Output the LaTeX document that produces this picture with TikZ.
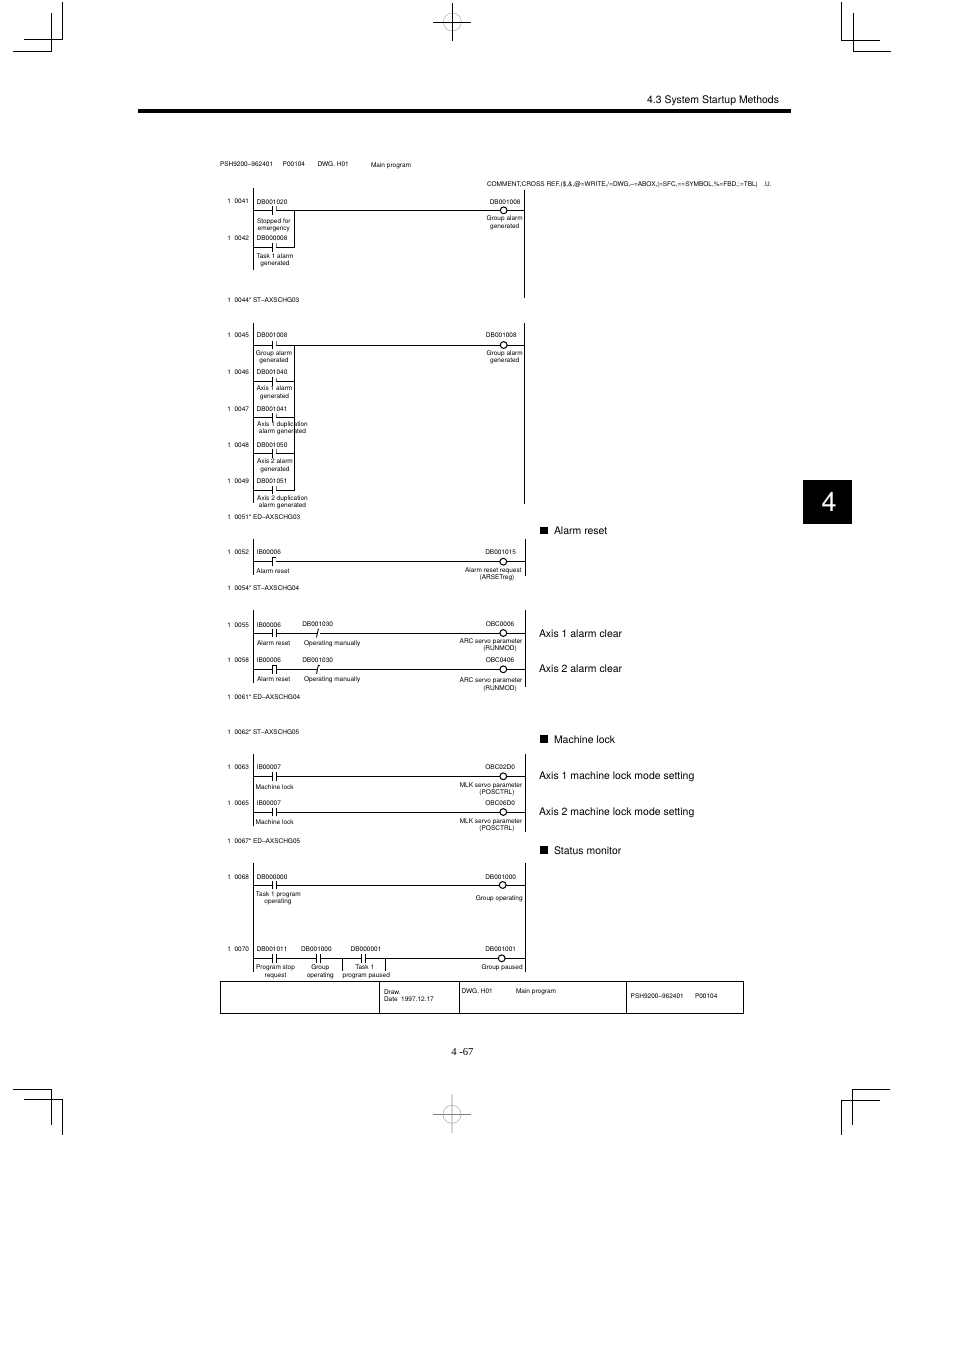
\documentclass[tikz,border=0pt]{standalone}
\usepackage{fontspec}
\setmainfont{TeX Gyre Heros}
\newfontfamily\pagenofont{Liberation Serif}
\tikzset{
  wire/.style={line width=0.9pt,black},
  rail/.style={line width=0.9pt,black},
  cropmark/.style={line width=0.8pt,black},
  lbl/.style={inner sep=0,outer sep=0,font=\fontsize{6.5pt}{7pt}\selectfont,text height=4.6pt,text depth=0pt},
  lbll/.style={lbl,anchor=west},
  lblr/.style={lbl,anchor=east},
  lblc/.style={lbl,anchor=center},
  note/.style={inner sep=0,outer sep=0,anchor=west,font=\fontsize{10.47pt}{12pt}\selectfont,text height=7.5pt,text depth=0pt},
  coil/.style={circle,draw,line width=1pt,inner sep=0,outer sep=0,minimum size=6.8pt},
  bullet/.style={fill=black,inner sep=0,outer sep=0,minimum size=7.6pt},
  contactbox/.style={inner sep=0,outer sep=0,minimum width=3.4pt,minimum height=8pt},
  nocontact/.style={contactbox,append after command={(\tikzlastnode.north west) edge[wire] (\tikzlastnode.south west) (\tikzlastnode.north east) edge[wire] (\tikzlastnode.south east)}},
  lightcontact/.style={contactbox,append after command={(\tikzlastnode.north west) edge[wire] (\tikzlastnode.south west) (\tikzlastnode.north east) edge[line width=0.4pt,gray] (\tikzlastnode.east)}},
  risecontact/.style={contactbox,append after command={(\tikzlastnode.south west) edge[wire] (\tikzlastnode.north west) (\tikzlastnode.north west) edge[wire] (\tikzlastnode.north east)}},
  pulsecontact/.style={nocontact,append after command={(\tikzlastnode.north west) edge[wire] (\tikzlastnode.north east)}},
  ncontact/.style={contactbox,append after command={(\tikzlastnode.south west) edge[wire] (\tikzlastnode.north)}},
  ncrisecontact/.style={ncontact,append after command={(\tikzlastnode.north) edge[wire] (\tikzlastnode.north east)}},
}
\begin{document}
\begin{tikzpicture}[x=1pt,y=-1pt,line cap=rect]
\useasboundingbox (0,0) rectangle (954,1351);
\definecolor{circlegray}{RGB}{165,165,165}
\definecolor{crossgray}{RGB}{215,215,215}
% crop marks
\draw [cropmark] (62.3,2) -- (62.3,39.3) -- (24.3,39.3);
\draw [cropmark] (51.3,13.3) -- (51.3,51.7) -- (13.3,51.7);
\draw [cropmark] (841.3,2) -- (841.3,40.7) -- (879.3,40.7);
\draw [cropmark] (853.3,13.3) -- (853.3,51.5) -- (890.7,51.5);
\draw [cropmark] (13.3,1089.3) -- (51.3,1089.3) -- (51.3,1124.3);
\draw [cropmark] (24.3,1099.3) -- (62.3,1099.3) -- (62.3,1134.3);
\draw [cropmark] (890,1089.3) -- (852.3,1089.3) -- (852.3,1124.3);
\draw [cropmark] (879.3,1100.3) -- (841.3,1100.3) -- (841.3,1135);
\draw [line width=0.5pt, circlegray] (452.3,22) circle (9);
\draw [cropmark] (433.3,22) -- (471,22);
\draw [cropmark] (452.3,3.3) -- (452.3,40.7);
\draw [line width=1.3pt, crossgray] (452,1095) -- (452,1132.7);
\draw [line width=0.5pt, circlegray] (452,1114.3) circle (9);
\draw [line width=0.6pt, gray] (433,1114.3) -- (471,1114.3);
% page head
\fill [black] (138,109) rectangle (790.7,113.3);
\node[note, anchor=east] (headtitle) at (779,99.5) {4.3 System Startup Methods};
\node[fill=black, text=white, inner sep=0, minimum width=49pt, minimum height=44pt, font=\fontsize{27pt}{27pt}\selectfont] (chaptertab) at (827.5,502) {\hspace{3pt}4};
\node[lbll] (hdrpsh) at (220,164.5) {PSH9200--962401};
\node[lbll] (hdrpage) at (282.7,164.5) {P00104};
\node[lbll] (hdrdwg) at (317.7,164.5) {DWG. H01};
\node[lbll] (hdrmain) at (371,165) {Main program};
\node[lbll] (hdrcomment) at (487,184.5) {COMMENT,CROSS REF.(\$,\&,@=WRITE,/=DWG,--=ABOX,|=SFC,==SYMBOL,\%=FBD,:=TBL)\ \ \ .U.};
% rungs 0041 0042
\coordinate (railla) at (253.3,188);
\coordinate (raillb) at (253.3,270);
\coordinate (railra) at (524.3,190);
\coordinate (railrb) at (524.3,297.7);
\draw [rail] (railla) -- (raillb);
\draw [rail] (railra) -- (railrb);
\node[lightcontact] (c41) at (274.3,210.3) {};
\node[lightcontact] (c42) at (274.3,247.3) {};
\node[coil] (q41) at (503.7,210.3) {};
\coordinate (br41) at (294.7,210.3);
\draw [wire] (railla |- c41) -- (c41.west);
\draw [wire] (c41.east) -- (q41.west);
\draw [wire] (q41.east) -- (railra |- q41);
\draw [wire] (railla |- c42) -- (c42.west);
\draw [wire] (c42.east) -| (br41);
\node[lbll] (n41) at (227.3,201.7) {1\ \ 0041};
\node[lbll] (a41) at (256.7,202) {DB001020};
\node[lblc] (t41a) at (273.8,221) {Stopped for};
\node[lblc] (t41b) at (273.8,228.3) {emergency};
\node[lbll] (n42) at (227.3,237.7) {1\ \ 0042};
\node[lbll] (a42) at (256.7,238) {DB000008};
\node[lblc] (t42a) at (275,255.7) {Task 1 alarm};
\node[lblc] (t42b) at (275,263) {generated};
\node[lblr] (b41) at (520.5,202) {DB001008};
\node[lblc] (u41a) at (504.7,217.7) {Group alarm};
\node[lblc] (u41b) at (504.7,225.7) {generated};
\node[lbll] (n44) at (227.3,300) {1\ \ 0044*\kern1.5pt ST--AXSCHG03};
% rungs 0045 to 0049
\coordinate (railsa) at (253.3,323);
\coordinate (railsb) at (253.3,502.3);
\coordinate (railta) at (524.3,323.5);
\coordinate (railtb) at (524.3,504);
\draw [rail] (railsa) -- (railsb);
\draw [rail] (railta) -- (railtb);
\node[lightcontact] (c45) at (274.3,345) {};
\node[lightcontact] (c46) at (274.3,381.7) {};
\node[lightcontact] (c47) at (274.3,417.7) {};
\node[lightcontact] (c48) at (274.3,453.3) {};
\node[lightcontact] (c49) at (274.3,490) {};
\node[coil] (q45) at (503.7,345) {};
\coordinate (br45) at (294.3,345);
\draw [wire] (railsa |- c45) -- (c45.west);
\draw [wire] (c45.east) -- (q45.west);
\draw [wire] (q45.east) -- (railta |- q45);
\draw [wire] (railsa |- c46) -- (c46.west);
\draw [wire] (c46.east) -- (br45 |- c46);
\draw [wire] (railsa |- c47) -- (c47.west);
\draw [wire] (c47.east) -- (br45 |- c47);
\draw [wire] (railsa |- c48) -- (c48.west);
\draw [wire] (c48.east) -- (br45 |- c48);
\draw [wire] (railsa |- c49) -- (c49.west);
\draw [wire] (c49.east) -| (br45);
\node[lbll] (n45) at (227.3,335) {1\ \ 0045};
\node[lbll] (a45) at (256.7,335) {DB001008};
\node[lblc] (t45a) at (274,352.7) {Group alarm};
\node[lblc] (t45b) at (274,360) {generated};
\node[lbll] (n46) at (227.3,371.7) {1\ \ 0046};
\node[lbll] (a46) at (256.7,372) {DB001040};
\node[lblc] (t46a) at (274.5,388.3) {Axis 1 alarm};
\node[lblc] (t46b) at (274.5,396) {generated};
\node[lbll] (n47) at (227.3,408.7) {1\ \ 0047};
\node[lbll] (a47) at (256.7,408.7) {DB001041};
\node[lblc] (t47a) at (282.5,423.8) {Axis 1 duplication};
\node[lblc] (t47b) at (282.5,431) {alarm generated};
\node[lbll] (n48) at (227.3,444.8) {1\ \ 0048};
\node[lbll] (a48) at (256.7,445) {DB001050};
\node[lblc] (t48a) at (275,460.7) {Axis 2 alarm};
\node[lblc] (t48b) at (275,469) {generated};
\node[lbll] (n49) at (227.3,480.7) {1\ \ 0049};
\node[lbll] (a49) at (256.7,480.7) {DB001051};
\node[lblc] (t49a) at (282.5,497.8) {Axis 2 duplication};
\node[lblc] (t49b) at (282.5,505.3) {alarm generated};
\node[lblr] (b45) at (516.7,335) {DB001008};
\node[lblc] (u45a) at (504.7,352.7) {Group alarm};
\node[lblc] (u45b) at (504.7,360) {generated};
\node[lbll] (n51) at (227.3,517) {1\ \ 0051*\kern1.5pt ED--AXSCHG03};
% rung 0052
\coordinate (railua) at (253.3,539.3);
\coordinate (railub) at (253.3,574.3);
\coordinate (railva) at (525,539.3);
\coordinate (railvb) at (525,576);
\draw [rail] (railua) -- (railub);
\draw [rail] (railva) -- (railvb);
\node[risecontact] (c52) at (274.3,561.7) {};
\node[coil] (q52) at (503.3,561.7) {};
\draw [wire] (railua |- c52) -- (c52.west);
\draw [wire] (c52.east) -- (q52.west);
\draw [wire] (q52.east) -- (railva |- q52);
\node[lbll] (n52) at (227.3,551.7) {1\ \ 0052};
\node[lbll] (a52) at (256.7,551.7) {IB00006};
\node[lbll] (t52) at (256.3,571) {Alarm reset};
\node[lblr] (b52) at (516,551.7) {DB001015};
\node[lblc] (u52a) at (493.3,570) {Alarm reset request};
\node[lblc] (u52b) at (497,577) {(ARSETreg)};
\node[lbll] (n54) at (227.3,587.7) {1\ \ 0054*\kern1.5pt ST--AXSCHG04};
% rungs 0055 0058
\coordinate (railwa) at (253.3,610);
\coordinate (railwb) at (253.3,682.7);
\coordinate (railxa) at (525,610);
\coordinate (railxb) at (525,686.7);
\draw [rail] (railwa) -- (railwb);
\draw [rail] (railxa) -- (railxb);
\node[nocontact] (c55) at (274.3,633) {};
\node[ncontact] (d55) at (318.3,633) {};
\node[coil] (q55) at (503.3,633) {};
\draw [wire] (railwa |- c55) -- (c55.west);
\draw [wire] (c55.east) -- (d55.west);
\draw [wire] (d55.east) -- (q55.west);
\draw [wire] (q55.east) -- (railxa |- q55);
\node[pulsecontact] (c58) at (274.3,669.3) {};
\node[ncrisecontact] (d58) at (318.3,669.3) {};
\node[coil] (q58) at (503.3,669.3) {};
\draw [wire] (railwa |- c58) -- (c58.west);
\draw [wire] (c58.east) -- (d58.west);
\draw [wire] (d58.east) -- (q58.west);
\draw [wire] (q58.east) -- (railxa |- q58);
\node[lbll] (n55) at (227.3,624.7) {1\ \ 0055};
\node[lbll] (a55) at (256.7,624.7) {IB00006};
\node[lbll] (e55) at (302.3,623.7) {DB001030};
\node[lblr] (b55) at (514.3,623.7) {OBC0006};
\node[lbll] (t55) at (257,642.7) {Alarm reset};
\node[lbll] (s55) at (304,642.7) {Operating manually};
\node[lblc] (u55a) at (491,641.3) {ARC servo parameter};
\node[lblc] (u55b) at (500,648.3) {(RUNMOD)};
\node[lbll] (n58) at (227.3,660) {1\ \ 0058};
\node[lbll] (a58) at (256.7,660) {IB00006};
\node[lbll] (e58) at (302.3,660) {DB001030};
\node[lblr] (b58) at (514.3,660) {OBC0406};
\node[lbll] (t58) at (257,678.7) {Alarm reset};
\node[lbll] (s58) at (304,678.7) {Operating manually};
\node[lblc] (u58a) at (491,679.7) {ARC servo parameter};
\node[lblc] (u58b) at (500,687.8) {(RUNMOD)};
\node[lbll] (n61) at (227.3,697) {1\ \ 0061*\kern1.5pt ED--AXSCHG04};
\node[lbll] (n62) at (227.3,731.7) {1\ \ 0062*\kern1.5pt ST--AXSCHG05};
% rungs 0063 0065
\coordinate (railya) at (253.3,754.3);
\coordinate (railyb) at (253.3,826);
\coordinate (railza) at (525,754.3);
\coordinate (railzb) at (525,831.7);
\draw [rail] (railya) -- (railyb);
\draw [rail] (railza) -- (railzb);
\node[nocontact] (c63) at (274.3,776.3) {};
\node[coil] (q63) at (503.3,776.3) {};
\draw [wire] (railya |- c63) -- (c63.west);
\draw [wire] (c63.east) -- (q63.west);
\draw [wire] (q63.east) -- (railza |- q63);
\node[nocontact] (c65) at (274.3,812) {};
\node[coil] (q65) at (503.3,812) {};
\draw [wire] (railya |- c65) -- (c65.west);
\draw [wire] (c65.east) -- (q65.west);
\draw [wire] (q65.east) -- (railza |- q65);
\node[lbll] (n63) at (227.3,766.7) {1\ \ 0063};
\node[lbll] (a63) at (256.7,766.7) {IB00007};
\node[lblr] (b63) at (515,766.7) {OBC02D0};
\node[lbll] (t63) at (255.7,786.7) {Machine lock};
\node[lblc] (u63a) at (491,785.3) {MLK servo parameter};
\node[lblc] (u63b) at (497,792) {(POSCTRL)};
\node[lbll] (n65) at (227.3,803.3) {1\ \ 0065};
\node[lbll] (a65) at (256.7,803.3) {IB00007};
\node[lblr] (b65) at (515,803.3) {OBC06D0};
\node[lbll] (t65) at (255.7,821.7) {Machine lock};
\node[lblc] (u65a) at (491,821) {MLK servo parameter};
\node[lblc] (u65b) at (497,828.3) {(POSCTRL)};
\node[lbll] (n67) at (227.3,841) {1\ \ 0067*\kern1.5pt ED--AXSCHG05};
% rungs 0068 0070
\coordinate (railpa) at (253.3,863);
\coordinate (railpb) at (253.3,972);
\coordinate (railqa) at (525,863);
\coordinate (railqb) at (525,971.7);
\draw [rail] (railpa) -- (railpb);
\draw [rail] (railqa) -- (railqb);
\node[nocontact] (c68) at (274.3,885) {};
\node[coil] (q68) at (502.7,885) {};
\draw [wire] (railpa |- c68) -- (c68.west);
\draw [wire] (c68.east) -- (q68.west);
\draw [wire] (q68.east) -- (railqa |- q68);
\node[nocontact] (c70) at (274.3,958.3) {};
\node[nocontact] (d70) at (318.3,958.3) {};
\node[nocontact] (f70) at (363.3,958.3) {};
\node[coil] (q70) at (501.7,958.3) {};
\draw [wire] (railpa |- c70) -- (c70.west);
\draw [wire] (c70.east) -- (d70.west);
\draw [wire] (d70.east) -- (f70.west);
\draw [wire] (f70.east) -- (q70.west);
\draw [wire] (q70.east) -- (railqa |- q70);
\coordinate (sa70) at (342.7,970.7);
\coordinate (sb70) at (385.3,970.7);
\draw [wire] (sa70) -- (sa70 |- c70);
\draw [wire] (sb70) -- (sb70 |- c70);
\node[lbll] (n68) at (227.3,876.7) {1\ \ 0068};
\node[lbll] (a68) at (256.7,876.7) {DB000000};
\node[lblc] (t68a) at (278.3,894) {Task 1 program};
\node[lblc] (t68b) at (278,901.3) {operating};
\node[lblr] (b68) at (516,876.7) {DB001000};
\node[lblr] (u68) at (522.7,897.7) {Group operating};
\node[lbll] (n70) at (227.3,949) {1\ \ 0070};
\node[lbll] (a70) at (256.7,949) {DB001011};
\node[lbll] (e70) at (301,949) {DB001000};
\node[lbll] (g70) at (350.7,949) {DB000001};
\node[lblr] (b70) at (516,949) {DB001001};
\node[lblc] (t70a) at (275.5,966.7) {Program stop};
\node[lblc] (t70b) at (275.5,974.7) {request};
\node[lblc] (s70a) at (320.3,966.7) {Group};
\node[lblc] (s70b) at (320.3,974.7) {operating};
\node[lblc] (h70a) at (364.7,966.7) {Task 1};
\node[lblc] (h70b) at (366.3,974.7) {program paused};
\node[lblr] (u70) at (522.7,966.7) {Group paused};
% title block
\draw [line width=1pt] (220,981) rectangle (743.5,1013.3);
\draw [line width=1pt] (379.3,981) -- (379.3,1013.3);
\draw [line width=1pt] (459.3,981) -- (459.3,1013.3);
\draw [line width=1pt] (626.7,981) -- (626.7,1013.3);
\node[lbll] (ttldraw) at (384,991.7) {Draw.};
\node[lbll] (ttldate) at (384,999) {Date\ \ 1997.12.17};
\node[lbll] (ttldwg) at (461.7,990.7) {DWG. H01};
\node[lbll] (ttlmain) at (516,990.7) {Main program};
\node[lbll] (ttlpsh) at (630.7,996) {PSH9200--962401};
\node[lbll] (ttlpage) at (695,996) {P00104};
\node[inner sep=0, outer sep=0, anchor=west, font=\pagenofont\fontsize{10.7pt}{12pt}\selectfont] (pageno) at (451.3,1051.7) {4 -67};
% notes on the right
\node[bullet] (bul1) at (544,530.5) {};
\node[note] (note1) at (554,531) {Alarm reset};
\node[note] (note2) at (539,633.7) {Axis 1 alarm clear};
\node[note] (note3) at (539,668.7) {Axis 2 alarm clear};
\node[bullet] (bul2) at (544,739) {};
\node[note] (note4) at (554,739.7) {Machine lock};
\node[note] (note5) at (539,775.7) {Axis 1 machine lock mode setting};
\node[note] (note6) at (539,811.7) {Axis 2 machine lock mode setting};
\node[bullet] (bul3) at (544,850) {};
\node[note] (note7) at (554,850.7) {Status monitor};
\end{tikzpicture}
\end{document}
